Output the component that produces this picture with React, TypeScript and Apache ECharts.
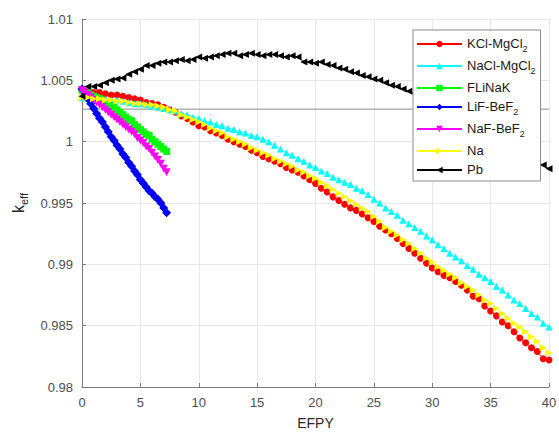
import React, { useEffect, useRef } from "react";
import * as echarts from "echarts";

const efpyLong = [
  0, 0.5, 1, 1.5, 2, 2.5, 3, 3.5, 4, 4.5, 5, 5.5, 6, 6.5, 7, 7.5, 8, 8.5, 9, 9.5,
  10, 10.5, 11, 11.5, 12, 12.5, 13, 13.5, 14, 14.5, 15, 15.5, 16, 16.5, 17, 17.5, 18, 18.5, 19, 19.5,
  20, 20.5, 21, 21.5, 22, 22.5, 23, 23.5, 24, 24.5, 25, 25.5, 26, 26.5, 27, 27.5, 28, 28.5, 29, 29.5,
  30, 30.5, 31, 31.5, 32, 32.5, 33, 33.5, 34, 34.5, 35, 35.5, 36, 36.5, 37, 37.5, 38, 38.5, 39, 39.5, 40,
];

const efpyShort = [
  0, 0.25, 0.5, 0.75, 1, 1.25, 1.5, 1.75, 2, 2.25, 2.5, 2.75, 3, 3.25, 3.5, 3.75, 4, 4.25, 4.5, 4.75,
  5, 5.25, 5.5, 5.75, 6, 6.25, 6.5, 6.75, 7, 7.25,
];

const kclMgcl2 = [
  1.0042, 1.0041, 1.004, 1.004, 1.0039, 1.0038, 1.0038, 1.0037, 1.0036, 1.0035, 1.0034, 1.0032, 1.0031, 1.003, 1.0028, 1.0026, 1.0024, 1.0021, 1.0019, 1.0016,
  1.0013, 1.0012, 1.0009, 1.0007, 1.0005, 1.0002, 1.0, 0.9998, 0.9996, 0.9993, 0.9991, 0.9988, 0.9986, 0.9984, 0.9982, 0.9979, 0.9977, 0.9975, 0.9972, 0.9969,
  0.9966, 0.9962, 0.9959, 0.9955, 0.9952, 0.9949, 0.9946, 0.9944, 0.9941, 0.9938, 0.9935, 0.9931, 0.9928, 0.9925, 0.9921, 0.9917, 0.9913, 0.9909, 0.9905, 0.9901,
  0.9897, 0.9894, 0.9891, 0.9889, 0.9886, 0.9883, 0.9879, 0.9874, 0.9872, 0.9866, 0.9862, 0.9858, 0.9853, 0.985, 0.9845, 0.984, 0.9836, 0.9832, 0.9829, 0.9823, 0.9822,
];

const naclMgcl2 = [
  1.0036, 1.0035, 1.0036, 1.0035, 1.0035, 1.0034, 1.0034, 1.0033, 1.0032, 1.0031, 1.0031, 1.003, 1.0029, 1.0028, 1.0027, 1.0026, 1.0025, 1.0023, 1.0022, 1.002,
  1.0019, 1.0017, 1.0016, 1.0014, 1.0013, 1.0011, 1.001, 1.0008, 1.0007, 1.0005, 1.0004, 1.0002, 1.0, 0.9997, 0.9994, 0.9991, 0.9989, 0.9986, 0.9984, 0.9981,
  0.9979, 0.9976, 0.9974, 0.9971, 0.9969, 0.9967, 0.9965, 0.9962, 0.996, 0.9957, 0.9953, 0.995, 0.9946, 0.9943, 0.994, 0.9936, 0.9933, 0.993, 0.9927, 0.9923,
  0.992, 0.9916, 0.9913, 0.9909, 0.9906, 0.9903, 0.9899, 0.9896, 0.9892, 0.9889, 0.9886, 0.9882, 0.9879, 0.9875, 0.9871, 0.9868, 0.9864, 0.986, 0.9857, 0.9852, 0.9849,
];

const flinak = [
  1.0042, 1.0041, 1.004, 1.0038, 1.0037, 1.0036, 1.0035, 1.0033, 1.0032, 1.0031, 1.0029, 1.0028, 1.0026, 1.0024, 1.0022, 1.002, 1.0018, 1.0017, 1.0014, 1.0012,
  1.001, 1.0008, 1.0006, 1.0005, 1.0002, 1.0, 0.9998, 0.9996, 0.9994, 0.9992,
];

const lifBef2 = [
  1.0043, 1.0039, 1.0035, 1.0031, 1.0027, 1.0023, 1.0019, 1.0016, 1.0012, 1.0008, 1.0004, 1.0001, 0.9997, 0.9994, 0.999, 0.9987, 0.9983, 0.998, 0.9976, 0.9973,
  0.9969, 0.9966, 0.9963, 0.996, 0.9958, 0.9955, 0.9953, 0.995, 0.9946, 0.9942,
];

const nafBef2 = [
  1.0042, 1.004, 1.0038, 1.0036, 1.0034, 1.0032, 1.003, 1.0028, 1.0026, 1.0024, 1.0022, 1.002, 1.0018, 1.0016, 1.0014, 1.0012, 1.001, 1.0008, 1.0006, 1.0003,
  1.0001, 0.9999, 0.9996, 0.9994, 0.9991, 0.9988, 0.9985, 0.9982, 0.9978, 0.9975,
];

const na = [
  1.0036, 1.0036, 1.0035, 1.0035, 1.0034, 1.0034, 1.0033, 1.0033, 1.0032, 1.0031, 1.0031, 1.003, 1.003, 1.0029, 1.0028, 1.0026, 1.0025, 1.0022, 1.002, 1.0018,
  1.0016, 1.0014, 1.0011, 1.0009, 1.0007, 1.0004, 1.0002, 1.0, 0.9998, 0.9995, 0.9993, 0.9991, 0.9989, 0.9986, 0.9984, 0.9982, 0.998, 0.9977, 0.9975, 0.9972,
  0.997, 0.9967, 0.9964, 0.9961, 0.9958, 0.9955, 0.9952, 0.9949, 0.9946, 0.9943, 0.9939, 0.9935, 0.993, 0.9927, 0.9924, 0.992, 0.9917, 0.9913, 0.9909, 0.9905,
  0.9902, 0.9898, 0.9895, 0.9892, 0.9889, 0.9885, 0.9882, 0.9879, 0.9875, 0.9871, 0.9868, 0.9864, 0.986, 0.9856, 0.9852, 0.9849, 0.9845, 0.9841, 0.9837, 0.9832, 0.9828,
];

const pb = [
  1.0037, 1.0045, 1.0045, 1.0046, 1.0048, 1.005, 1.0051, 1.0052, 1.0055, 1.0057, 1.0059, 1.0062, 1.0062, 1.0064, 1.0065, 1.0065, 1.0066, 1.0067, 1.0066, 1.0067,
  1.0069, 1.0068, 1.0069, 1.007, 1.0071, 1.0072, 1.0072, 1.007, 1.0071, 1.0072, 1.0071, 1.007, 1.0071, 1.0071, 1.007, 1.0069, 1.007, 1.0069, 1.0065, 1.0065,
  1.0064, 1.0065, 1.0063, 1.0062, 1.006, 1.0059, 1.0057, 1.0056, 1.0054, 1.0053, 1.0051, 1.005, 1.0048, 1.0046, 1.0045, 1.0043, 1.0041, 1.0039, 1.0038, 1.0036,
  1.0034, 1.0032, 1.003, 1.0028, 1.0026, 1.0023, 1.0021, 1.0018, 1.0015, 1.0012, 1.0009, 1.0006, 1.0003, 1.0, 0.9997, 0.9994, 0.999, 0.9987, 0.9983, 0.9981, 0.9978,
];

const referenceX = [0, 40];
const referenceK = [1.00265, 1.00265];

const xTicks = { min: 0, max: 40, interval: 5 };
const yTicks = { min: 0.98, max: 1.01, interval: 0.005 };

const legendLabels: Record<string, string> = {
  "KCl-MgCl2": "{b|KCl-MgCl}{s|2}",
  "NaCl-MgCl2": "{b|NaCl-MgCl}{s|2}",
  FLiNaK: "{b|FLiNaK}",
  "LiF-BeF2": "{b|LiF-BeF}{s|2}",
  "NaF-BeF2": "{b|NaF-BeF}{s|2}",
  Na: "{b|Na}",
  Pb: "{b|Pb}",
};

const FONT = "'Liberation Sans', Arial, Helvetica, sans-serif";

function pairs(xs: number[], ys: number[]) {
  return ys.map((y, i) => [xs[i], y]);
}

export default function App() {
  const ref = useRef<HTMLDivElement>(null);
  useEffect(() => {
    if (!ref.current) return;
    const chart = echarts.init(ref.current, undefined, { renderer: "svg" });
    const mk = (
      name: string,
      xs: number[],
      ys: number[],
      color: string,
      symbol: string,
      size: number,
      rotate = 0
    ) => ({
      name,
      type: "line",
      data: pairs(xs, ys),
      symbol,
      symbolSize: size,
      symbolRotate: rotate,
      showAllSymbol: true,
      lineStyle: { color, width: 0.8 },
      itemStyle: { color, borderWidth: 0 },
      emphasis: { disabled: true },
      z: 3,
    });
    chart.setOption({
      animation: false,
      textStyle: { fontFamily: FONT },
      grid: { left: 82, right: 10, top: 19, bottom: 45, containLabel: false, outerBoundsMode: "none" },
      xAxis: {
        type: "value",
        min: xTicks.min,
        max: xTicks.max,
        interval: xTicks.interval,
        name: "EFPY",
        nameLocation: "middle",
        nameGap: 28,
        nameTextStyle: { fontSize: 14, lineHeight: 16, color: "#262626", fontFamily: FONT },
        axisLine: { lineStyle: { color: "#7a7a7a", width: 1 } },
        axisTick: { inside: true, length: 4, lineStyle: { color: "#7a7a7a" } },
        axisLabel: { fontSize: 13, color: "#4d4d4d", margin: 9, fontFamily: FONT },
        splitLine: { show: true, lineStyle: { color: "#e8e8e8", width: 1 } },
      },
      yAxis: {
        type: "value",
        min: yTicks.min,
        max: yTicks.max,
        interval: yTicks.interval,
        name: "{b|k}{s|eff}",
        nameLocation: "middle",
        nameGap: 53,
        nameRotate: 90,
        nameTextStyle: {
          color: "#262626",
          fontFamily: FONT,
          rich: {
            b: { fontSize: 16, verticalAlign: "top", lineHeight: 16, color: "#262626", fontFamily: FONT },
            s: { fontSize: 11, verticalAlign: "top", padding: [8, 0, 0, 0], lineHeight: 12, color: "#262626", fontFamily: FONT },
          },
        },
        axisLine: { show: true, lineStyle: { color: "#7a7a7a", width: 1 } },
        axisTick: { show: true, inside: true, length: 4, lineStyle: { color: "#7a7a7a" } },
        axisLabel: { fontSize: 13, color: "#4d4d4d", margin: 9, fontFamily: FONT },
        splitLine: { show: true, lineStyle: { color: "#e8e8e8", width: 1 } },
      },
      legend: {
        left: 413,
        top: 30,
        orient: "vertical",
        padding: [7, 5, 5, 3],
        itemWidth: 45,
        itemHeight: 8,
        itemGap: 6,
        backgroundColor: "#ffffff",
        borderColor: "#8a8a8a",
        borderWidth: 1,
        borderRadius: 0,
        selectedMode: false,
        data: ["KCl-MgCl2", "NaCl-MgCl2", "FLiNaK", "LiF-BeF2", "NaF-BeF2", "Na", "Pb"],
        formatter: (name: string) => legendLabels[name] || name,
        textStyle: {
          color: "#1a1a1a",
          fontFamily: FONT,
          rich: {
            b: { fontSize: 13, verticalAlign: "top", lineHeight: 14, color: "#1a1a1a", fontFamily: FONT },
            s: { fontSize: 9, verticalAlign: "top", padding: [7, 0, 0, 0], lineHeight: 8, color: "#1a1a1a", fontFamily: FONT },
          },
        },
        z: 10,
      },
      series: [
        {
          name: "reference",
          type: "line",
          data: pairs(referenceX, referenceK),
          symbol: "none",
          lineStyle: { color: "#8c8c8c", width: 1 },
          silent: true,
          z: 1,
        },
        mk("KCl-MgCl2", efpyLong, kclMgcl2, "#ff0000", "circle", 7),
        mk("NaCl-MgCl2", efpyLong, naclMgcl2, "#00ffff", "triangle", 7),
        mk("FLiNaK", efpyShort, flinak, "#00ff00", "rect", 7),
        mk("LiF-BeF2", efpyShort, lifBef2, "#0000ff", "diamond", 9),
        mk("NaF-BeF2", efpyShort, nafBef2, "#ff00ff", "triangle", 8, 180),
        mk("Na", efpyLong, na, "#ffff00", "triangle", 7, -90),
        mk("Pb", efpyLong, pb, "#000000", "triangle", 7, 90),
      ],
    });
    return () => chart.dispose();
  }, []);
  return (
    <div
      ref={ref}
      style={{ position: "fixed", left: 0, top: 0, width: 559, height: 432, background: "#ffffff" }}
    />
  );
}
